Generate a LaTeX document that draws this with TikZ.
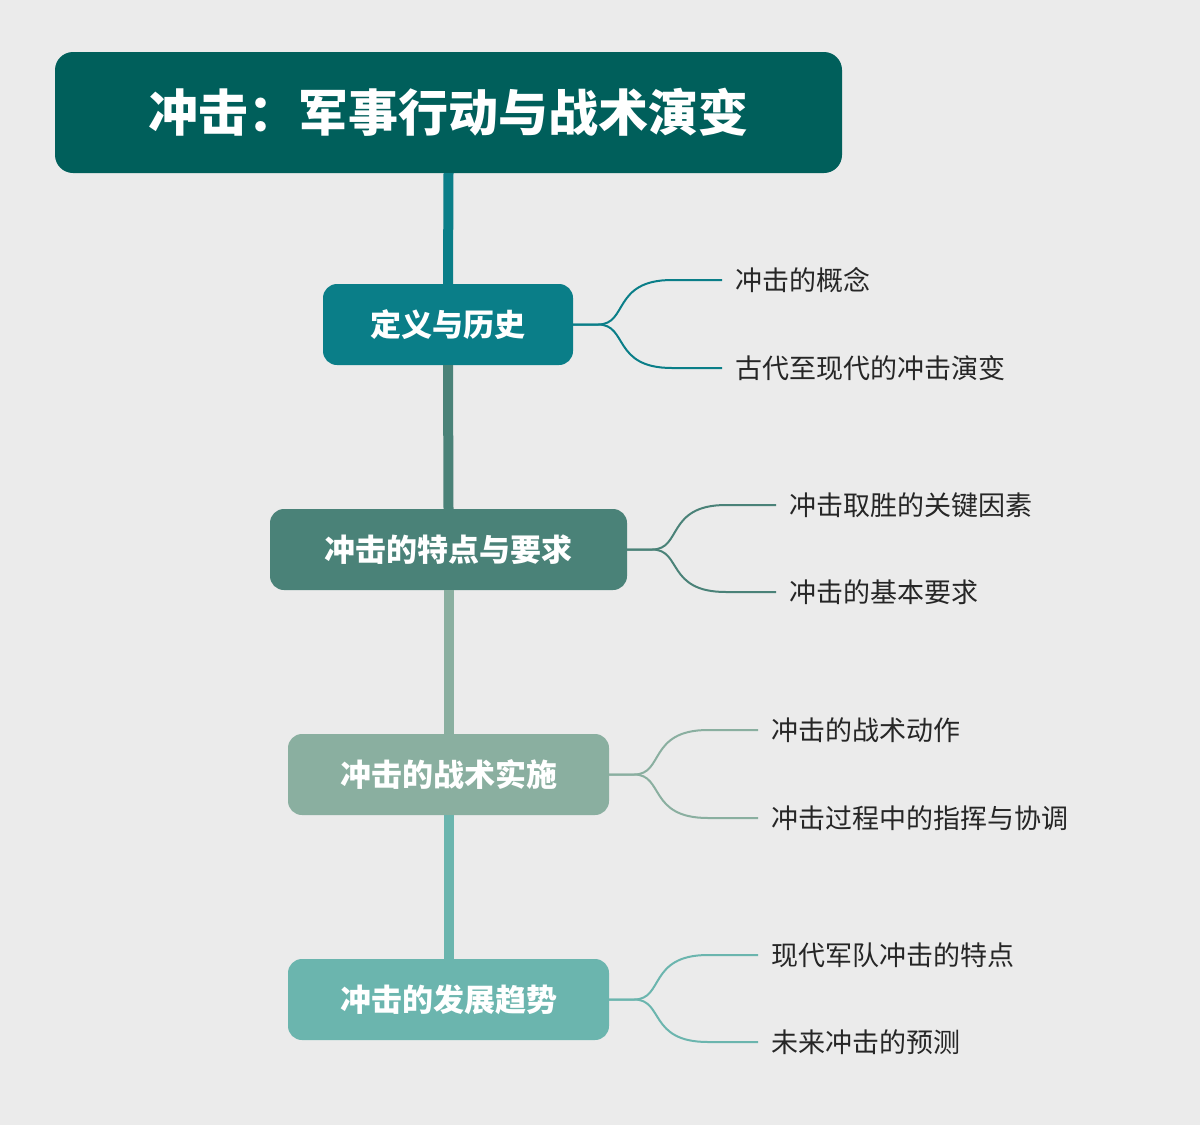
\documentclass[tikz,border=0pt]{standalone}
\usepackage{fontspec}
\usetikzlibrary{calc}
\newfontfamily\cjk{Noto Sans CJK SC}
\begin{document}
\begin{tikzpicture}[x=1pt,y=-1pt,
  box/.style={rounded corners=14pt,text=white,font=\cjk\bfseries\fontsize{31}{31}\selectfont,minimum height=81pt,inner sep=0pt},
  leaf/.style={anchor=west,inner sep=0pt,font=\cjk\fontsize{27}{27}\selectfont,text=black!85},
  br/.style={line width=2pt}]
\definecolor{bg}{HTML}{EBEBEB}
\definecolor{c0}{HTML}{005F5B}
\definecolor{c1}{HTML}{0A7E88}
\definecolor{c2}{HTML}{4A8278}
\definecolor{c3}{HTML}{8AAFA0}
\definecolor{c4}{HTML}{6BB5AE}
\fill[bg] (0,0) rectangle (1200,1125);
\useasboundingbox (0,0) rectangle (1200,1125);
\node[box,fill=c0,minimum width=787pt,minimum height=121pt,rounded corners=18pt,font=\cjk\bfseries\fontsize{50}{50}\selectfont] (t) at (448.5,112.5) {冲击：军事行动与战术演变};
\node[box,fill=c1,minimum width=250pt] (b1) at (448,324.5) {定义与历史};
\node[box,fill=c2,minimum width=357pt] (b2) at (448.5,549.5) {冲击的特点与要求};
\node[box,fill=c3,minimum width=321pt] (b3) at (448.5,774.5) {冲击的战术实施};
\node[box,fill=c4,minimum width=321pt] (b4) at (448.5,999.5) {冲击的发展趋势};
\draw[line width=10pt,c1] (t.south) -- (b1.north);
\draw[line width=10pt,c2] (b1.south) -- (b2.north);
\draw[line width=10pt,c3] (b2.south) -- (b3.north);
\draw[line width=10pt,c4] (b3.south) -- (b4.north);
\node[leaf] (l11) at (735,280) {冲击的概念};
\node[leaf] (l12) at (735,368) {古代至现代的冲击演变};
\node[leaf] (l21) at (789,505) {冲击取胜的关键因素};
\node[leaf] (l22) at (789,592) {冲击的基本要求};
\node[leaf] (l31) at (771,730) {冲击的战术动作};
\node[leaf] (l32) at (771,818) {冲击过程中的指挥与协调};
\node[leaf] (l41) at (771,955) {现代军队冲击的特点};
\node[leaf] (l42) at (771,1042) {未来冲击的预测};
\foreach \b/\c/\l/\y/\e in {b1/c1/l11/280/722,b1/c1/l12/368/722,b2/c2/l21/505/776,b2/c2/l22/592/776,b3/c3/l31/730/758,b3/c3/l32/818/758,b4/c4/l41/955/758,b4/c4/l42/1042/758}{
  \draw[br,\c] (\b.east) -- ++(25,0) .. controls +(30,0) and ($(\e,\y)+(-110,0)$) .. ($(\e,\y)+(-50,0)$) -- (\e,\y);
}
\end{tikzpicture}
\end{document}
